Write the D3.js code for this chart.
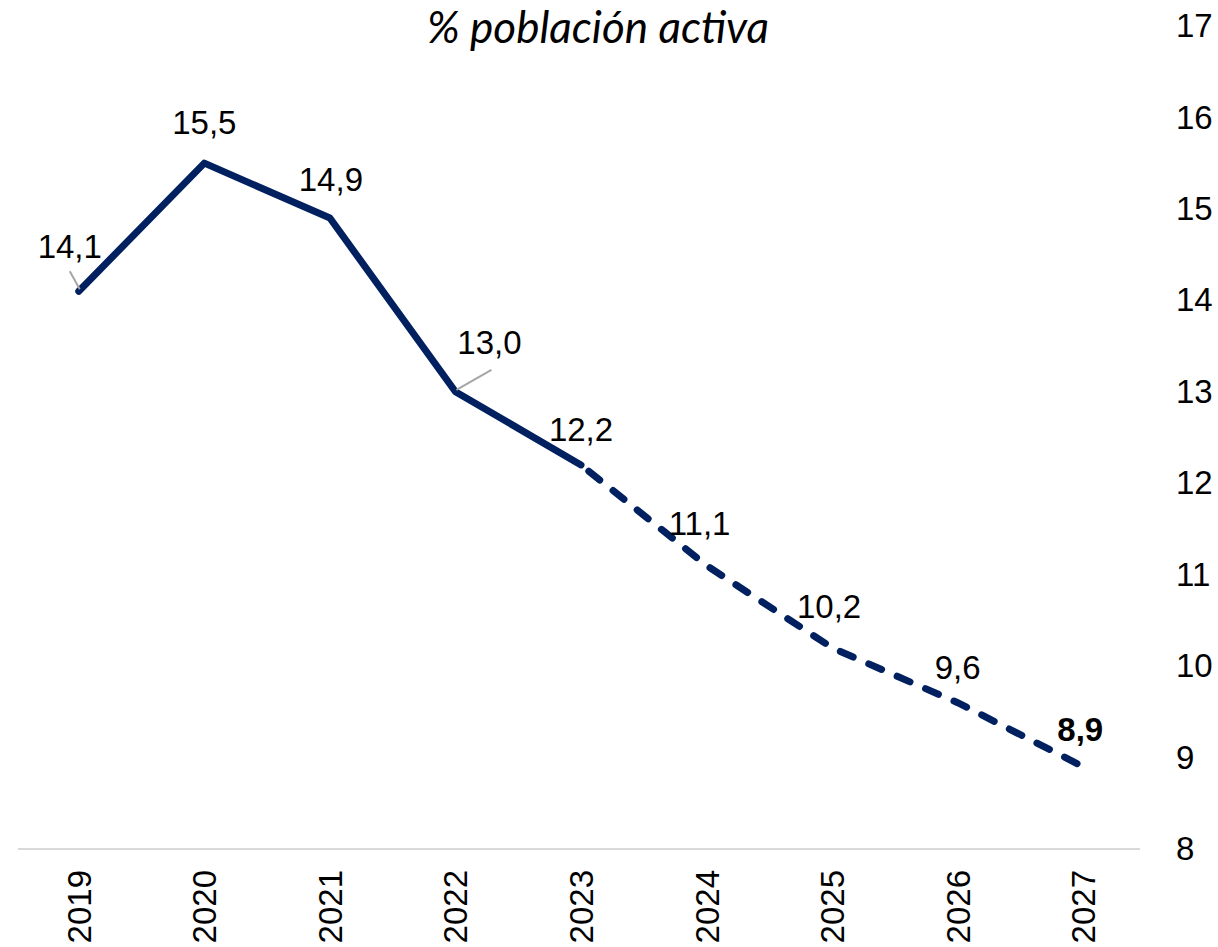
<!DOCTYPE html>
<html>
<head>
<meta charset="utf-8">
<script src="https://cdn.jsdelivr.net/npm/d3@7"></script>
<style>
  body { margin: 0; background: #fff; }
  svg { display: block; }
</style>
</head>
<body>
<div id="viz"></div>
<script>
var width = 1218;
var height = 947;

// data
var years = ["2019", "2020", "2021", "2022", "2023", "2024", "2025", "2026", "2027"];
var values = [14.1, 15.5, 14.9, 13.0, 12.2, 11.1, 10.2, 9.6, 8.9];
var lastActual = "2023";
var yTicks = [8, 9, 10, 11, 12, 13, 14, 15, 16, 17];
var title = "% población activa";

// label offsets from the point (dx, dy)
var labelOffsets = [[-9, -33], [0, -29], [1, -27], [34, -38], [0, -24], [-7, -31], [-3, -30], [0, -24], [-3, -26]];

var navy = "#002060";

var x = d3.scaleBand()
	.domain(years)
	.range([16, 1146]);

var y = d3.scaleLinear()
	.domain([8, 17])
	.range([849, 26]);

var svg = d3.select("#viz").append("svg")
	.attr("width", width)
	.attr("height", height);

var data = years.map(function(d, i) { return {year: d, value: values[i], off: labelOffsets[i]}; });
var cx = function(d) { return x(d.year) + x.bandwidth() / 2; };

// title
svg.append("text")
	.attr("x", 598)
	.attr("y", 43)
	.attr("text-anchor", "middle")
	.style("font-family", "Lato, sans-serif")
	.style("font-style", "italic")
	.style("font-size", "44px")
	.style("fill", "#000")
	.text(title);

// category axis line
svg.append("line")
	.attr("x1", 18)
	.attr("x2", 1140)
	.attr("y1", y(8))
	.attr("y2", y(8))
	.style("stroke", "#d9d9d9")
	.style("stroke-width", 2);

// right value axis (labels only)
var yAxis = d3.axisRight(y)
	.tickValues(yTicks)
	.tickSize(0)
	.tickPadding(0);

var gy = svg.append("g")
	.attr("transform", "translate(1176,0)")
	.call(yAxis);
gy.select(".domain").remove();
gy.selectAll("text")
	.style("font-family", "'Liberation Sans', Arial, sans-serif")
	.style("font-size", "33px")
	.style("fill", "#000");

// year labels rotated
svg.selectAll(".year")
	.data(years)
	.enter().append("text")
		.attr("class", "year")
		.attr("transform", function(d) { return "translate(" + (x(d) + x.bandwidth() / 2 + 12) + ",870) rotate(-90)"; })
		.attr("text-anchor", "end")
		.style("font-family", "'Liberation Sans', Arial, sans-serif")
		.style("font-size", "33px")
		.style("fill", "#000")
		.text(function(d) { return d; });

var line = d3.line()
	.x(cx)
	.y(function(d) { return y(d.value); });

var cut = years.indexOf(lastActual);

svg.append("path")
	.datum(data.slice(0, cut + 1))
	.attr("d", line)
	.style("fill", "none")
	.style("stroke", navy)
	.style("stroke-width", 7)
	.style("stroke-linejoin", "round")
	.style("stroke-linecap", "round");

svg.append("path")
	.datum(data.slice(cut))
	.attr("d", line)
	.style("fill", "none")
	.style("stroke", navy)
	.style("stroke-width", 7)
	.style("stroke-dasharray", "14,17")
	.style("stroke-dashoffset", -10)
	.style("stroke-linecap", "round");

// leader lines for the shifted labels
svg.append("line")
	.attr("x1", cx(data[0]) - 9).attr("y1", y(data[0].value) - 20)
	.attr("x2", cx(data[0]) + 1).attr("y2", y(data[0].value) - 2)
	.style("stroke", "#a6a6a6").style("stroke-width", 2);

svg.append("line")
	.attr("x1", cx(data[3]) + 36).attr("y1", y(data[3].value) - 22)
	.attr("x2", cx(data[3]) + 1).attr("y2", y(data[3].value) - 2)
	.style("stroke", "#a6a6a6").style("stroke-width", 2);

// data labels
svg.selectAll(".lbl")
	.data(data)
	.enter().append("text")
		.attr("class", "lbl")
		.attr("x", function(d) { return cx(d) + d.off[0]; })
		.attr("y", function(d) { return y(d.value) + d.off[1]; })
		.attr("text-anchor", "middle")
		.style("font-family", "'Liberation Sans', Arial, sans-serif")
		.style("font-size", "33px")
		.style("font-weight", function(d, i) { return i === data.length - 1 ? "bold" : "normal"; })
		.style("fill", "#000")
		.text(function(d) { return d3.format(".1f")(d.value).replace(".", ","); });
</script>
</body>
</html>
